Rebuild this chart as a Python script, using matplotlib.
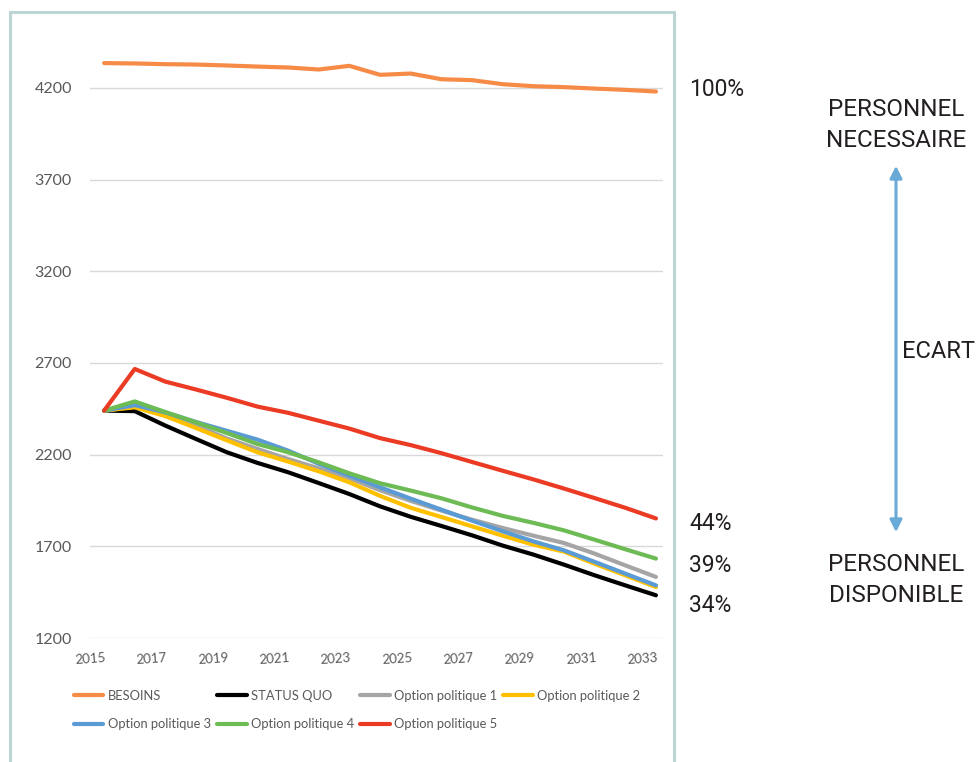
import numpy as np
import matplotlib.pyplot as plt
from matplotlib.patches import Rectangle, FancyArrowPatch
from matplotlib.transforms import ScaledTranslation

# Years and series (number of staff)
years = np.arange(2015, 2034)
besoins = [4335, 4333, 4329, 4327, 4322, 4316, 4311, 4300, 4320, 4271,
           4278, 4247, 4242, 4220, 4209, 4204, 4196, 4189, 4180]
status_quo = [2440, 2437, 2358, 2285, 2213, 2155, 2104, 2045, 1985, 1918,
              1861, 1811, 1760, 1704, 1655, 1600, 1542, 1487, 1433]
option1 = [2440, 2462, 2418, 2358, 2288, 2231, 2176, 2125, 2071, 2006,
           1948, 1895, 1845, 1800, 1758, 1718, 1660, 1596, 1533]
option2 = [2440, 2458, 2410, 2345, 2278, 2213, 2162, 2109, 2049, 1975,
           1910, 1860, 1809, 1758, 1709, 1671, 1605, 1542, 1478]
option3 = [2440, 2470, 2430, 2378, 2330, 2282, 2222, 2150, 2085, 2022,
           1960, 1900, 1840, 1782, 1727, 1678, 1615, 1551, 1487]
option4 = [2440, 2490, 2432, 2376, 2318, 2258, 2213, 2158, 2098, 2044,
           2004, 1962, 1912, 1866, 1828, 1787, 1736, 1684, 1633]
option5 = [2440, 2667, 2598, 2555, 2510, 2462, 2428, 2385, 2342, 2290,
           2252, 2208, 2160, 2112, 2065, 2015, 1963, 1910, 1852]

labels = ["BESOINS", "STATUS QUO", "Option politique 1", "Option politique 2",
          "Option politique 3", "Option politique 4", "Option politique 5"]
colors = ["#F58B47", "#000000", "#A5A5A5", "#FFC000",
          "#5B9BD5", "#6DBB55", "#EB3B24"]
series = [besoins, status_quo, option1, option2, option3, option4, option5]

yticks = [1200, 1700, 2200, 2700, 3200, 3700, 4200]
xticks = list(range(2015, 2034, 2))

W, H = 978, 762
fig = plt.figure(figsize=(W / 100, H / 100), dpi=100)


def fx(px):
    return px / W


def fy(py):
    return 1 - py / H


# plot area in pixel terms
ax = fig.add_axes([fx(90), fy(638), fx(663) - fx(90), fy(42) - fy(638)])
ax.set_xlim(2014.54, 2033.23)
ax.set_ylim(1200, 4450)

lines = []
for vals, lab, col in zip(series, labels, colors):
    ln, = ax.plot(years, vals, color=col, lw=3, label=lab,
                  solid_joinstyle="round", solid_capstyle="round", zorder=3)
    lines.append(ln)

ax.set_yticks(yticks)
ax.set_xticks(xticks)
ax.set_xticklabels([str(y) for y in xticks], rotation=4)
ax.grid(axis="y", color="#D9D9D9", lw=1)
ax.set_axisbelow(True)
for s in ax.spines.values():
    s.set_visible(False)
ax.tick_params(axis="y", length=0, pad=13, labelsize=11.5, labelcolor="#595959")
ax.tick_params(axis="x", length=0, pad=10, labelsize=9.5, labelcolor="#595959")
for lab in ax.get_yticklabels() + ax.get_xticklabels():
    lab.set_fontfamily("Lato")
shift = ScaledTranslation(-0.135, 0, fig.dpi_scale_trans)
for lab in ax.get_xticklabels():
    lab.set_transform(lab.get_transform() + shift)

# legend rows: reorder so that columns fill the way rows read
order = [0, 4, 1, 5, 2, 6, 3]
leg = fig.legend([lines[i] for i in order], [labels[i] for i in order],
                 ncol=4, loc="upper left", bbox_to_anchor=(fx(62), fy(678)),
                 frameon=False, handlelength=2.3, handletextpad=0.35,
                 columnspacing=0.45, labelspacing=1.3,
                 prop={"family": "Lato", "size": 9.3})
for t in leg.get_texts():
    t.set_color("#595959")

# outer frame
fig.patches.append(Rectangle((fx(10), fy(800)), fx(674) - fx(10), fy(12) - fy(800),
                             transform=fig.transFigure, fill=False,
                             edgecolor="#BED5D5", lw=2.2))

# percentages of needs covered in 2033
ref = besoins[-1]
pct = [(besoins[-1], 89), (option5[-1], 524), (option4[-1], 565), (status_quo[-1], 606)]
for v, py in pct:
    fig.text(fx(689), fy(py), f"{round(100 * v / ref)}%", ha="left", va="center",
             fontsize=16.5, color="#231F20", family="Roboto")

txt = dict(ha="center", va="center", fontsize=17.5, color="#231F20",
           family="Roboto", linespacing=1.42)
fig.text(fx(896), fy(125), "PERSONNEL\nNECESSAIRE", **txt)
fig.text(fx(896), fy(580), "PERSONNEL\nDISPONIBLE", **txt)
fig.text(fx(975), fy(351), "ECART", ha="right", va="center", fontsize=17,
         color="#231F20", family="Roboto")

arrow = FancyArrowPatch((fx(896), fy(535)), (fx(896), fy(163)),
                        transform=fig.transFigure, arrowstyle="<|-|>",
                        mutation_scale=18, color="#6AAAD6", lw=2.2)
fig.patches.append(arrow)

fig.savefig("out.png", dpi=100)
